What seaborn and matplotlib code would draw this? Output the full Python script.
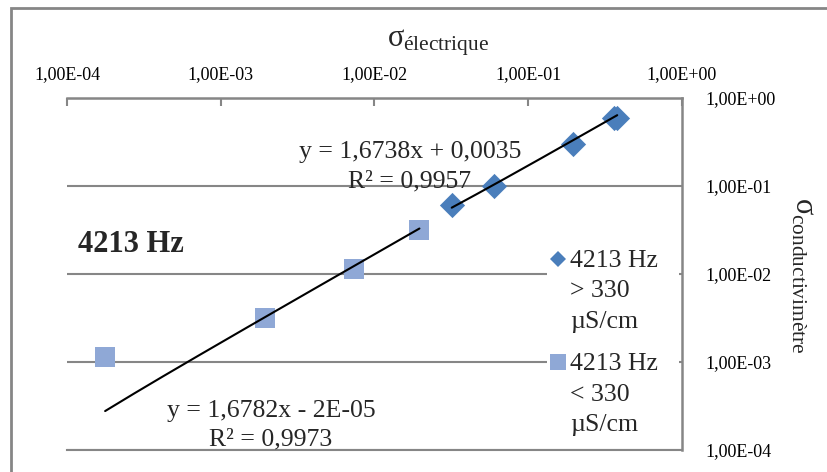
import numpy as np
import pandas as pd
import matplotlib
matplotlib.use("Agg")
import matplotlib.pyplot as plt
import seaborn as sns
from matplotlib.lines import Line2D
from matplotlib.patches import Rectangle
from matplotlib.legend_handler import HandlerLine2D

# ---------------- data ----------------
x_high = [0.0318, 0.0596, 0.195, 0.362, 0.379]
y_high = [0.0608, 0.100, 0.300, 0.590, 0.600]
x_low = [0.000177, 0.00195, 0.0074, 0.0196]
y_low = [0.00114, 0.00316, 0.0114, 0.0316]

fit_high = (1.6738, 0.0035)
fit_low = (1.6782, -2e-05)

tick_values = [1e-4, 1e-3, 1e-2, 1e-1, 1e0]
tick_labels = ["1,00E-04", "1,00E-03", "1,00E-02", "1,00E-01", "1,00E+00"]

label_high = "4213 Hz\n> 330\nµS/cm"
label_low = "4213 Hz\n< 330\nµS/cm"
eq_high = "y = 1,6738x + 0,0035\nR² = 0,9957"
eq_low = "y = 1,6782x - 2E-05\nR² = 0,9973"
title_text = "4213 Hz"

# ---------------- style ----------------
sns.set_theme(style="white")
plt.rcParams["font.family"] = ["Liberation Serif", "DejaVu Serif"]
plt.rcParams["mathtext.fontset"] = "custom"
plt.rcParams["mathtext.rm"] = "Liberation Serif"
plt.rcParams["mathtext.it"] = "Liberation Serif"
plt.rcParams["mathtext.bf"] = "Liberation Serif:bold"

c_high = "#4A7EBB"
c_low = "#8FA8D6"
grid_c = "#868686"

W, H = 828, 472
fig = plt.figure(figsize=(W / 100, H / 100), dpi=100)


def fx(px):
    return px / W


def fy(py):
    return 1 - py / H


L, R, T, B = 67, 682, 98, 450
ax = fig.add_axes([fx(L), fy(B), (R - L) / W, (B - T) / H])
ax.set_xscale("log")
ax.set_yscale("log")
ax.set_axisbelow(True)

df_high = pd.DataFrame({"x": x_high, "y": y_high})
df_low = pd.DataFrame({"x": x_low, "y": y_low})

# trendlines
xs_h = np.linspace(min(x_high), max(x_high), 200)
xs_l = np.linspace(min(x_low), max(x_low), 400)
sns.lineplot(x=xs_h, y=fit_high[0] * xs_h + fit_high[1], color="black", lw=1.5, ax=ax, zorder=4)
sns.lineplot(x=xs_l, y=fit_low[0] * xs_l + fit_low[1], color="black", lw=1.5, ax=ax, zorder=4)

sns.scatterplot(data=df_low, x="x", y="y", marker="s", s=215, color=c_low,
                edgecolor=c_low, linewidth=0, ax=ax, zorder=3)
sns.scatterplot(data=df_high, x="x", y="y", marker="D", s=165, color=c_high,
                edgecolor=c_high, linewidth=0, ax=ax, zorder=3)

ax.set_xlim(1e-4, 1)
ax.set_ylim(1e-4, 1)
ax.set_xticks(tick_values)
ax.set_xticklabels(tick_labels)
ax.set_yticks(tick_values)
ax.set_yticklabels(tick_labels)
ax.minorticks_off()
ax.xaxis.tick_top()
ax.yaxis.tick_right()
ax.tick_params(axis="x", direction="in", length=6, width=1.5, color=grid_c,
               pad=11, labelsize=13, labelcolor="black")
ax.tick_params(axis="y", direction="in", length=0, pad=17, labelsize=13,
               labelcolor="black")
for lab in ax.get_yticklabels():
    lab.set_horizontalalignment("left")
ax.set_xlabel("")
ax.set_ylabel("")

ax.yaxis.grid(True, color=grid_c, lw=1.5)
ax.xaxis.grid(False)
ax.spines["left"].set_visible(False)
for s in ["top", "right", "bottom"]:
    ax.spines[s].set_color(grid_c)
    ax.spines[s].set_linewidth(1.8)
ax.spines["bottom"].set_linewidth(1.5)

# white legend background box (covers the gridlines like Excel's legend)
ax.add_patch(Rectangle((fx(547), fy(440)), fx(679) - fx(547), fy(243) - fy(440),
                       transform=fig.transFigure, facecolor="white",
                       edgecolor="none", zorder=1.5))


# legend: marker aligned with the first line of each label
class HandlerTop(HandlerLine2D):
    def __init__(self, shift, **kw):
        super().__init__(**kw)
        self.shift = shift

    def create_artists(self, legend, orig_handle, xdescent, ydescent, width,
                       height, fontsize, trans):
        return super().create_artists(legend, orig_handle, xdescent,
                                      ydescent - self.shift, width, height,
                                      fontsize, trans)


handles = [
    Line2D([], [], marker="D", linestyle="none", color=c_high, markersize=8.5, markeredgewidth=0),
    Line2D([], [], marker="s", linestyle="none", color=c_low, markersize=11, markeredgewidth=0),
]
leg = ax.legend(handles, [label_high, label_low], loc="upper left",
                bbox_to_anchor=(fx(548), fy(247)),
                bbox_transform=fig.transFigure,
                frameon=False, fontsize=18.5, handlelength=0.6, handletextpad=0.15,
                borderpad=0.1, labelspacing=0.8, borderaxespad=0,
                handler_map={Line2D: HandlerTop(46)})
for t in leg.get_texts():
    t.set_linespacing(1.5)
leg.set_zorder(5)

# texts
fig.text(fx(410), fy(167), eq_high, ha="center", va="center", fontsize=18.5,
         linespacing=1.45, multialignment="center")
fig.text(fx(271), fy(425), eq_low, ha="center", va="center", fontsize=18.5,
         linespacing=1.35, multialignment="center")
fig.text(fx(78), fy(245), title_text, ha="left", va="center", fontsize=22,
         fontweight="bold")
fig.text(fx(438), fy(43), r"$σ_{\mathrm{électrique}}$", ha="center", va="center",
         fontsize=22)
fig.text(fx(803), fy(275), r"$σ_{\mathrm{conductivimètre}}$", ha="center", va="center",
         fontsize=22, rotation=270)

# outer chart border (left and top edges visible)
fig.patches.append(Rectangle((fx(11), -0.1), 1.2, fy(8) + 0.1, transform=fig.transFigure,
                             fill=False, edgecolor=grid_c, lw=2, zorder=0))

fig.savefig("out.png", dpi=100)
